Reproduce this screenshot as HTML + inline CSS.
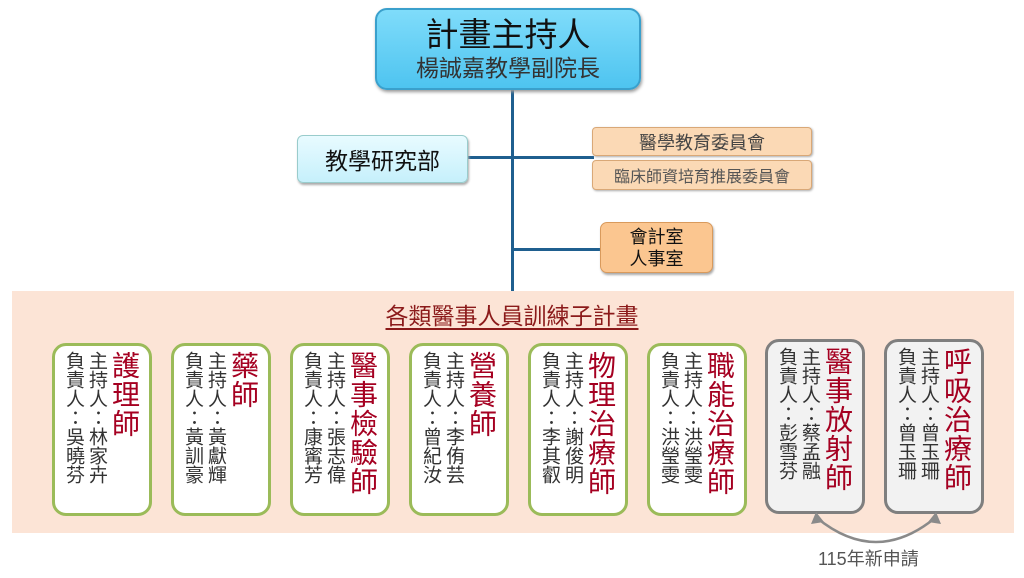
<!DOCTYPE html>
<html><head><meta charset="utf-8"><style>
body{margin:0;width:1024px;height:578px;background:#fff;position:relative;overflow:hidden;font-family:"Liberation Sans","Noto Sans CJK TC",sans-serif;}
.a{position:absolute;box-sizing:border-box;}
.c{display:flex;align-items:center;justify-content:center;text-align:center;}
.card{position:absolute;top:343px;width:100px;height:173px;border:3px solid #9bbb59;border-radius:14px;background:#fff;box-sizing:border-box;}
.card.g{border-color:#7f7f7f;background:#f2f2f2;}
.v{position:absolute;top:5px;writing-mode:vertical-rl;white-space:nowrap;}
.t{left:54px;width:30px;color:#a50021;font-size:28px;line-height:30px;letter-spacing:1px;}
.s{font-size:19px;line-height:20px;color:#333;letter-spacing:0;}
.s1{left:31px;}
.s2{left:8px;}
</style></head><body>
<div class="a" style="left:511px;top:88px;width:3px;height:204px;background:#1f5f8f"></div>
<div class="a" style="left:466px;top:156px;width:128px;height:3px;background:#1f5f8f"></div>
<div class="a" style="left:512px;top:248px;width:90px;height:3px;background:#1f5f8f"></div>
<div class="a c" style="left:375px;top:8px;width:266px;height:82px;background:linear-gradient(#7fdcfa,#4ec4f0);border:2px solid #3aa0cc;border-radius:12px;flex-direction:column;box-shadow:1px 2px 3px #999;">
<div style="font-size:33px;line-height:38px;color:#111">計畫主持人</div><div style="font-size:23px;line-height:28px;color:#333">楊誠嘉教學副院長</div></div>
<div class="a c" style="left:297px;top:135px;width:171px;height:48px;background:linear-gradient(#e8fbff,#c6f0fb);border:1px solid #9cc;border-radius:6px;font-size:23px;color:#111;box-shadow:1px 2px 2px #aaa">教學研究部</div>
<div class="a c" style="left:592px;top:127px;width:220px;height:29px;background:#fbd9b5;border:1px solid #d9a877;border-radius:4px;font-size:18px;color:#444;box-shadow:1px 1px 2px #aaa">醫學教育委員會</div>
<div class="a c" style="left:592px;top:160px;width:220px;height:30px;background:#fbd9b5;border:1px solid #d9a877;border-radius:4px;font-size:16px;color:#555;box-shadow:1px 1px 2px #aaa">臨床師資培育推展委員會</div>
<div class="a c" style="left:600px;top:222px;width:113px;height:51px;background:#fbc690;border:1px solid #d99a5c;border-radius:7px;font-size:18px;line-height:22px;color:#111;box-shadow:1px 2px 2px #aaa">會計室<br>人事室</div>
<div class="a" style="left:12px;top:291px;width:1002px;height:242px;background:#fce4d6"></div>
<div class="a" style="left:0;top:297px;width:1024px;text-align:center;font-size:23px;color:#8b1a1a;"><span style="text-decoration:underline;text-underline-offset:4px">各類醫事人員訓練子計畫</span></div>

<div class="card" style="left:52px"><div class="v t">護理師</div><div class="v s s1">主持人：林家卉</div><div class="v s s2">負責人：吳曉芬</div></div>
<div class="card" style="left:171px"><div class="v t">藥師</div><div class="v s s1">主持人：黃獻輝</div><div class="v s s2">負責人：黃訓豪</div></div>
<div class="card" style="left:290px"><div class="v t">醫事檢驗師</div><div class="v s s1">主持人：張志偉</div><div class="v s s2">負責人：康寗芳</div></div>
<div class="card" style="left:409px"><div class="v t">營養師</div><div class="v s s1">主持人：李侑芸</div><div class="v s s2">負責人：曾紀汝</div></div>
<div class="card" style="left:528px"><div class="v t">物理治療師</div><div class="v s s1">主持人：謝俊明</div><div class="v s s2">負責人：李其叡</div></div>
<div class="card" style="left:647px"><div class="v t">職能治療師</div><div class="v s s1">主持人：洪瑩雯</div><div class="v s s2">負責人：洪瑩雯</div></div>
<div class="card g" style="left:765px;top:339px;height:175px"><div class="v t">醫事放射師</div><div class="v s s1">主持人：蔡孟融</div><div class="v s s2">負責人：彭雪芬</div></div>
<div class="card g" style="left:884px;top:339px;height:175px"><div class="v t">呼吸治療師</div><div class="v s s1">主持人：曾玉珊</div><div class="v s s2">負責人：曾玉珊</div></div>

<svg class="a" style="left:0;top:0" width="1024" height="578">
<path d="M817 518 Q876 566 935 518" fill="none" stroke="#8a8a8a" stroke-width="2.5"/>
<path d="M811 524 L816 512 L824 522 Z" fill="#8a8a8a"/>
<path d="M941 524 L936 512 L928 522 Z" fill="#8a8a8a"/>
</svg>
<div class="a" style="left:818px;top:545px;font-size:18px;color:#555">115年新申請</div>
</body></html>
